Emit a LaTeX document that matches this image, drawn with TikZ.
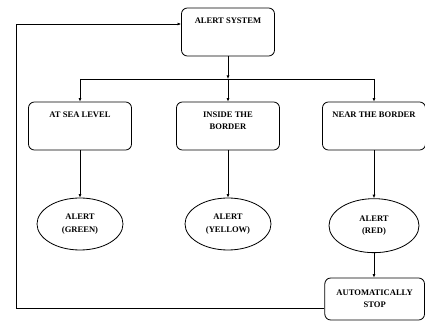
\documentclass[tikz,border=0pt]{standalone}
\usepackage{fontspec}
\setmainfont{Liberation Serif}
\usetikzlibrary{shapes,shapes.geometric}
\usetikzlibrary{positioning,arrows.meta}
\tikzset{
  every node/.style={font=\fontsize{7.3}{10.5}\selectfont\bfseries},
  box/.style={draw, line width=0.7pt, rounded corners=5pt, minimum width=3.09cm, minimum height=1.44cm},
  boxlabel/.style={anchor=north, align=center, inner sep=0pt, yshift=-0.3cm},
  oval/.style={draw, line width=0.7pt, ellipse, minimum width=2.58cm, minimum height=1.56cm, align=center, inner sep=1pt},
  arr/.style={line width=0.6pt, -{Latex[length=3pt,width=2.6pt]}}
}
\begin{document}
\begin{tikzpicture}
\useasboundingbox (0,0) rectangle (12.75,9.87);
\draw(6.84,8.91) node[box, minimum width=2.79cm, label={[boxlabel]north:ALERT SYSTEM}] (alert) {};

\draw(2.40,6.09) node[box, label={[boxlabel]north:AT SEA LEVEL}] (sea) {};
\draw(6.84,6.09) node[box, label={[boxlabel]north:INSIDE THE\\BORDER}] (inside) {};
\draw(11.22,6.09) node[box, label={[boxlabel]north:NEAR THE BORDER}] (near) {};

\draw(2.40,3.15) node[oval] (green) {ALERT\\(GREEN)};
\draw(6.84,3.15) node[oval] (yellow) {ALERT\\(YELLOW)};
\draw(11.22,3.10) node[oval, minimum width=2.7cm, minimum height=1.62cm] (red) {ALERT\\(RED)};

\draw(11.24,0.90) node[box, minimum width=2.99cm, minimum height=1.26cm, align=center] (stop) {AUTOMATICALLY\\STOP};

\coordinate (bus) at (6.84,7.50);
\coordinate (bus1) at (2.40,7.50);
\coordinate (bus3) at (11.22,7.50);
\coordinate (back) at (0.48,9.15);

\draw[arr] (alert.south) -- (bus);
\draw[line width=0.6pt] (bus1) -- (bus3);
\draw[arr] (bus1) -- (sea.north);
\draw[arr] (bus) -- (inside.north);
\draw[arr] (bus3) -- (near.north);

\draw[arr] (sea.south) -- (green.north);
\draw[arr] (inside.south) -- (yellow.north);
\draw[arr] (near.south) -- (red.north);
\draw[arr] (red.south) -- (stop.north -| red.south);

\draw[arr, line width=0.8pt] ([yshift=-0.27cm]stop.west) -| (back) -- (back -| alert.west);
\end{tikzpicture}
\end{document}
